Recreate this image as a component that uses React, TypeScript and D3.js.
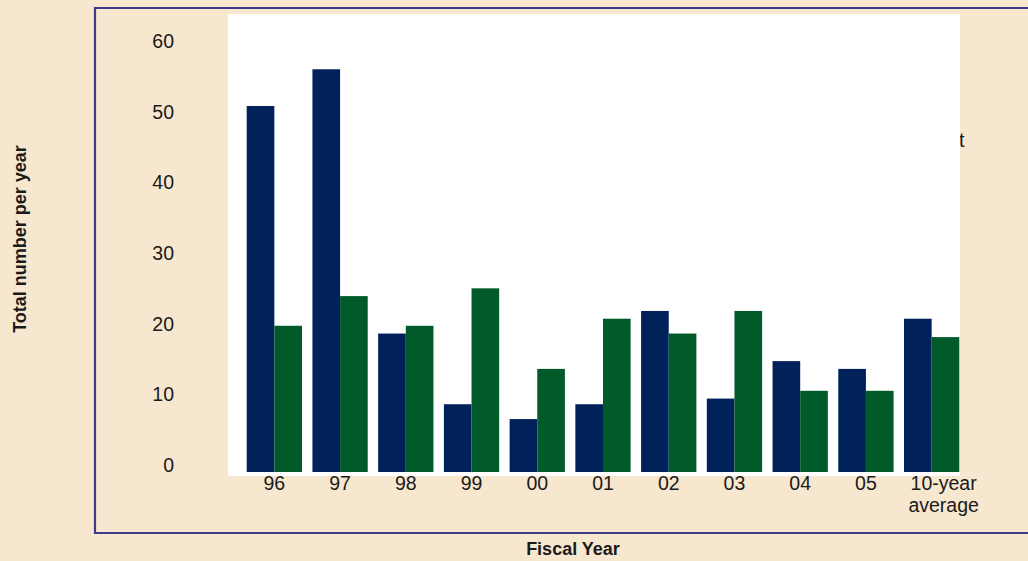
import React from 'react';
import * as d3 from 'd3';

const categories = ['96', '97', '98', '99', '00', '01', '02', '03', '04', '05', '10-year average'];
const seriesNames = ['navy', 'green'];
const navyValues = [50.8, 56.0, 18.6, 8.6, 6.5, 8.6, 21.8, 9.4, 14.7, 13.6, 20.7];
const greenValues = [19.7, 23.9, 19.7, 25.0, 13.6, 20.7, 18.6, 21.8, 10.5, 10.5, 18.1];
const yTicks = [0, 10, 20, 30, 40, 50, 60];

const W = 1028;
const H = 561;
const colors: Record<string, string> = { navy: '#00215a', green: '#005a2a' };
const font = '"Liberation Sans", Arial, Helvetica, sans-serif';

export default function App() {
  const plot = { left: 228, right: 960, top: 14, bottom: 476 };
  const baseline = plot.bottom - 4;

  const x = d3.scaleBand<string>().domain(categories).range([246.7, 959.3]).paddingInner(0.159).paddingOuter(0);
  const xSub = d3.scaleBand<string>().domain(seriesNames).range([0, x.bandwidth()]);
  const y = d3.scaleLinear().domain([0, 60]).range([465, 41]);

  const data = categories.map((c, i) => ({ c, navy: navyValues[i], green: greenValues[i] }));

  return (
    <svg width={W} height={H} style={{ position: 'absolute', left: 0, top: 0 }} fontFamily={font}>
      <rect x={0} y={0} width={W} height={H} fill="#f7e7cf" />
      {/* frame */}
      <path d={`M${W + 2},8 H95 V533 H${W + 2}`} fill="none" stroke="#3b3b8c" strokeWidth={2.2} />
      {/* legend text clipped behind the plot panel */}
      <text x={959} y={147} fontSize={19.5} fill="#1a1a1a">t</text>
      <rect x={plot.left} y={plot.top} width={plot.right - plot.left} height={plot.bottom - plot.top} fill="#ffffff" />

      {data.map(d => (
        <g key={d.c} transform={`translate(${x(d.c)},0)`}>
          {seriesNames.map(s => {
            const v = (d as any)[s] as number;
            return (
              <rect
                key={s}
                x={xSub(s)}
                y={y(v)}
                width={xSub.bandwidth()}
                height={baseline - y(v)}
                fill={colors[s]}
              />
            );
          })}
        </g>
      ))}

      {yTicks.map(t => (
        <text key={t} x={174} y={y(t)} dy="0.36em" textAnchor="end" fontSize={19.5} fill="#1a1a1a">{t}</text>
      ))}

      {categories.map(c => {
        const cx = (x(c) ?? 0) + x.bandwidth() / 2;
        const lines = c === '10-year average' ? ['10-year', 'average'] : [c];
        const tx = cx + (lines.length > 1 ? 12 : 0);
        return (
          <text key={c} x={tx} y={490} textAnchor="middle" fontSize={19.5} fill="#1a1a1a">
            {lines.map((l, i) => (
              <tspan key={l} x={tx} dy={i === 0 ? 0 : 22}>{l}</tspan>
            ))}
          </text>
        );
      })}

      <text x={573} y={555} textAnchor="middle" fontSize={18} fontWeight="bold" fill="#1a1a1a">Fiscal Year</text>
      <text
        transform={`translate(26,239) rotate(-90)`}
        textAnchor="middle"
        fontSize={18}
        fontWeight="bold"
        fill="#1a1a1a"
      >
        Total number per year
      </text>
    </svg>
  );
}
